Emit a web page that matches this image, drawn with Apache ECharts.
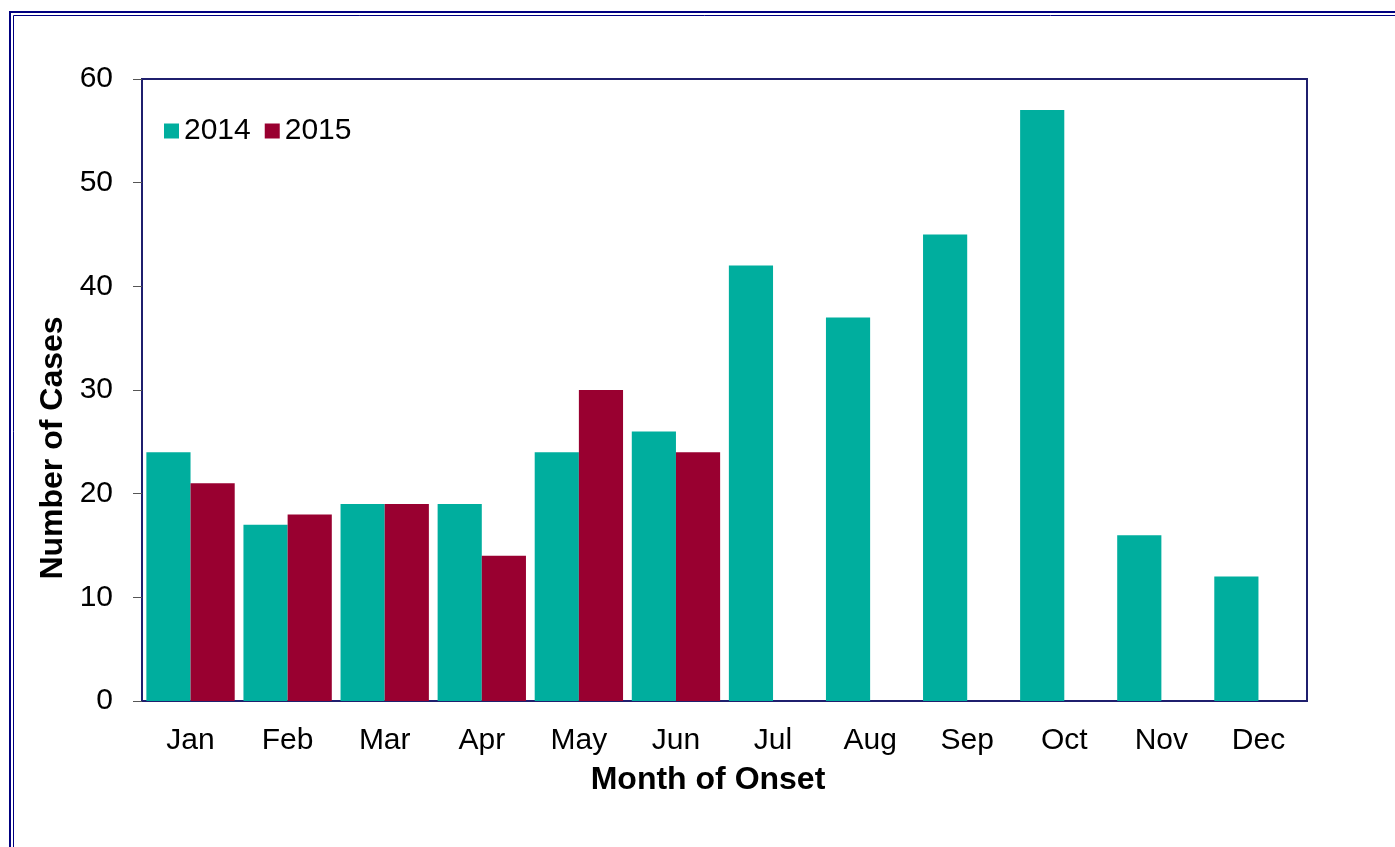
<!DOCTYPE html>
<html>
<head>
<meta charset="utf-8">
<script src="https://cdn.jsdelivr.net/npm/echarts@6/dist/echarts.min.js"></script>
<style>
  html, body { margin: 0; padding: 0; background: #fff; }
  #chart { width: 1395px; height: 847px; }
</style>
</head>
<body>
<div id="chart"></div>
<script>
// month labels on the x axis
const months = ['Jan', 'Feb', 'Mar', 'Apr', 'May', 'Jun', 'Jul', 'Aug', 'Sep', 'Oct', 'Nov', 'Dec'];
// cases per month of onset
const cases2014 = [24, 17, 19, 19, 24, 26, 42, 37, 45, 57, 16, 12];
const cases2015 = [21, 18, 19, 14, 30, 24, null, null, null, null, null, null];
const seriesNames = ['2014', '2015'];

const chart = echarts.init(document.getElementById('chart'));

const font = 'Liberation Sans, Arial, sans-serif';

const option = {
  backgroundColor: '#fff',
  animation: false,
  grid: {
    left: 142, top: 79, right: 88, bottom: 146,
    show: true,
    borderColor: '#1f1f6e',
    borderWidth: 2,
    backgroundColor: 'transparent'
  },
  legend: {
    left: 159,
    top: 111,
    icon: 'rect',
    itemWidth: 15,
    itemHeight: 15,
    itemGap: 14,
    textStyle: { fontFamily: font, fontSize: 30, color: '#000' },
    data: seriesNames
  },
  xAxis: {
    type: 'category',
    data: months,
    axisLine: { lineStyle: { color: '#1f1f6e', width: 2 } },
    axisTick: { length: 9, lineStyle: { color: '#555' } },
    axisLabel: { fontFamily: font, fontSize: 30, color: '#000', margin: 25 }
  },
  yAxis: {
    type: 'value',
    min: 0,
    max: 60,
    interval: 10,
    splitLine: { show: false },
    axisLine: { show: true, lineStyle: { color: '#1f1f6e', width: 2 } },
    axisTick: { show: true, length: 9, lineStyle: { color: '#555' } },
    axisLabel: { fontFamily: font, fontSize: 30, color: '#000', margin: 29 }
  },
  series: [
    {
      name: seriesNames[0],
      type: 'bar',
      data: cases2014,
      barGap: '0%',
      barCategoryGap: '9%',
      itemStyle: { color: '#00ae9e' }
    },
    {
      name: seriesNames[1],
      type: 'bar',
      data: cases2015,
      itemStyle: { color: '#990030' }
    }
  ],
  graphic: [
    // double frame around the figure
    {
      type: 'rect', silent: true, z: 100,
      shape: { x: 10, y: 12, width: 1500, height: 1000 },
      style: { fill: 'none', stroke: '#000080', lineWidth: 2 }
    },
    {
      type: 'rect', silent: true, z: 100,
      shape: { x: 13.5, y: 15.5, width: 1500, height: 1000 },
      style: { fill: 'none', stroke: '#000080', lineWidth: 1 }
    },
    {
      type: 'text',
      x: 708, y: 780,
      style: {
        text: 'Month of Onset',
        font: 'bold 32px ' + font,
        fill: '#000',
        align: 'center',
        verticalAlign: 'middle'
      }
    },
    {
      type: 'text',
      x: 53, y: 448,
      rotation: Math.PI / 2,
      style: {
        text: 'Number of Cases',
        font: 'bold 32px ' + font,
        fill: '#000',
        align: 'center',
        verticalAlign: 'middle'
      }
    }
  ]
};

chart.setOption(option);
</script>
</body>
</html>
